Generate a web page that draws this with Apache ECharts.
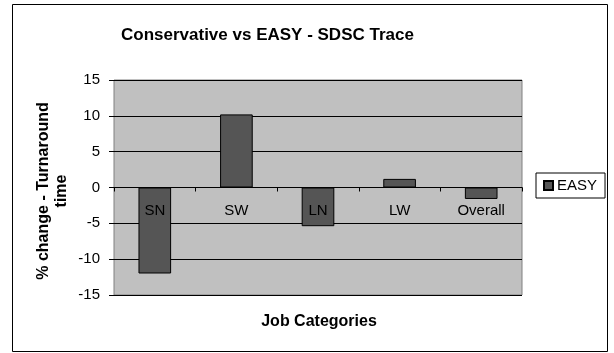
<!DOCTYPE html>
<html>
<head>
<meta charset="utf-8">
<script src="https://cdn.jsdelivr.net/npm/echarts@6/dist/echarts.min.js"></script>
<style>
  html, body { margin: 0; padding: 0; background: #fff; }
  #chart { width: 614px; height: 353px; }
</style>
</head>
<body>
<div id="chart"></div>
<script>
// Job categories and the EASY % change in turnaround time
var categories = ['SN', 'SW', 'LN', 'LW', 'Overall'];
var easyValues = [-12.0, 10.2, -5.4, 1.2, -1.6];
var yTicks = { min: -15, max: 15, step: 5 };

var FONT = '"Liberation Sans", Arial, sans-serif';

var chart = echarts.init(document.getElementById('chart'));
chart.setOption({
  animation: false,
  backgroundColor: '#ffffff',
  textStyle: { fontFamily: FONT, color: '#000' },
  graphic: [{
    type: 'rect',
    shape: { x: 12.5, y: 4.5, width: 595, height: 347 },
    style: { fill: 'none', stroke: '#000', lineWidth: 1 },
    z: -1
  }, {
    // x-axis title sits below the plot, not at the zero-crossing axis line
    type: 'text',
    x: 319, y: 322,
    style: {
      text: 'Job Categories',
      font: 'bold 16px ' + FONT,
      fill: '#000',
      align: 'center', verticalAlign: 'middle'
    }
  }, {
    // y-axis title, rotated, centred on the plot height
    type: 'text',
    x: 53, y: 191,
    rotation: Math.PI / 2,
    style: {
      text: '% change - Turnaround\ntime',
      font: 'bold 16px ' + FONT,
      lineHeight: 18,
      fill: '#000',
      align: 'center', verticalAlign: 'middle'
    }
  }],
  title: {
    text: 'Conservative vs EASY - SDSC Trace',
    left: 116, top: 22,
    textStyle: { fontFamily: FONT, fontSize: 17, fontWeight: 'bold', color: '#000' }
  },
  legend: {
    data: ['EASY'],
    orient: 'vertical',
    left: 536, top: 173,
    padding: [5, 8, 5, 7],
    borderColor: '#000', borderWidth: 1,
    backgroundColor: '#fff',
    icon: 'rect', itemWidth: 9, itemHeight: 9, itemGap: 4,
    textStyle: { fontFamily: FONT, fontSize: 15, color: '#000', padding: [0, 0, 0, -1] }
  },
  grid: {
    left: 114, top: 80, width: 408, height: 215,
    show: true, backgroundColor: '#c0c0c0', borderColor: '#808080', borderWidth: 1,
    containLabel: false,
    outerBoundsMode: 'none'
  },
  xAxis: {
    type: 'category',
    data: categories,
    z: 10,
    axisLine: { onZero: true, lineStyle: { color: '#000', width: 1 } },
    axisTick: { show: true, length: 4, lineStyle: { color: '#000' } },
    // category names hang just under the zero line, drawn over the bars
    axisLabel: { fontFamily: FONT, fontSize: 15, color: '#000', margin: -92 }
  },
  yAxis: {
    type: 'value',
    min: yTicks.min, max: yTicks.max, interval: yTicks.step,
    axisLine: { show: false },
    axisTick: { show: true, length: 5, lineStyle: { color: '#000' } },
    axisLabel: { fontFamily: FONT, fontSize: 15, color: '#000', margin: 14 },
    splitLine: { show: true, lineStyle: { color: '#000', width: 1 } }
  },
  series: [{
    name: 'EASY',
    type: 'bar',
    data: easyValues,
    barWidth: '40%',
    z: 2,
    itemStyle: { color: '#555555', borderColor: '#000', borderWidth: 1 }
  }]
});
</script>
</body>
</html>
